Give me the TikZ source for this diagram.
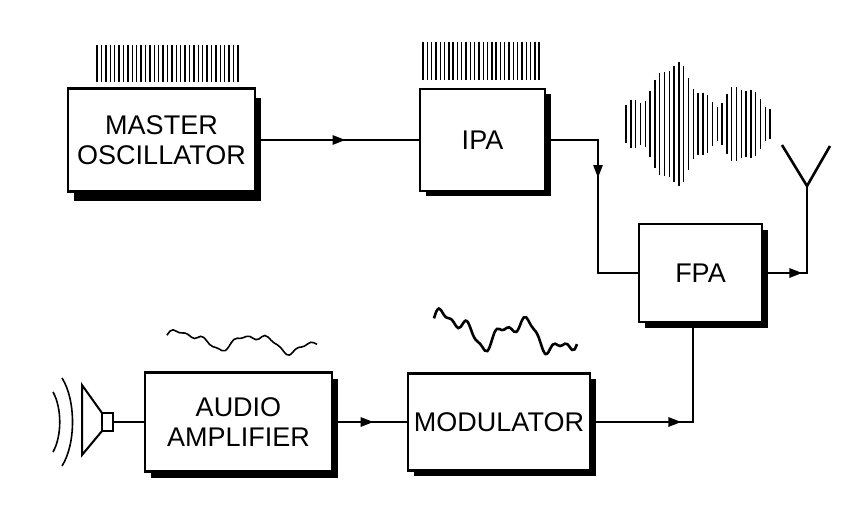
\documentclass[tikz,border=0pt]{standalone}
\usepackage{fontspec}
\setmainfont{Liberation Sans}
\usetikzlibrary{decorations.markings,arrows.meta}
\begin{document}
\begin{tikzpicture}[x=1pt,y=-1pt,
  blk/.style={draw,line width=2.4pt,fill=white,inner sep=0pt,font=\fontsize{27}{30}\selectfont,align=center},
  wire/.style={line width=2.6pt},
  mid/.style={postaction={decorate},decoration={markings,mark=at position #1 with {\arrow{Triangle[length=13pt,width=9pt]}}}},
  bar/.style={line width=1.4pt}]
\useasboundingbox (0,0) rectangle (863,516);
\newcommand{\blkshadow}[4]{\fill (#1+6,#2+6) rectangle (#3+6,#4+6);}
\blkshadow{68}{92}{255}{195}
\blkshadow{420}{88}{545}{190}
\blkshadow{639}{224}{762}{322}
\blkshadow{145}{373}{332}{472}
\blkshadow{408}{373}{590}{470}
\node[blk,minimum width=187pt,minimum height=103pt] (mo) at (161.5,140) {MASTER\\OSCILLATOR};
\node[blk,minimum width=125pt,minimum height=102pt] (ipa) at (482.5,140) {IPA};
\node[blk,minimum width=123pt,minimum height=98pt] (fpa) at (700.5,273) {FPA};
\node[blk,minimum width=187pt,minimum height=99pt] (aa) at (238.5,422) {AUDIO\\AMPLIFIER};
\node[blk,minimum width=182pt,minimum height=97pt] (mod) at (499,422) {MODULATOR};
% wires
\draw[wire,mid=0.55] (mo.east) -- (ipa.west);
\coordinate (c1) at (598,140);
\coordinate (c2) at (598,273);
\draw[wire,mid=0.4] (ipa.east) -- (c1) -- (c2) -- (fpa.west);
\coordinate (ant) at (807,186);
\coordinate (c3) at (807,273);
\draw[wire,mid=0.3] (fpa.east) -- (c3) -- (ant);
\draw[wire] (ant) -- (782,145) (ant) -- (830,146);
\draw[wire,mid=0.55] (aa.east) -- (mod.west);
\coordinate (c4) at (693,422);
\draw[wire,mid=0.45] (mod.east) -- (c4) -- (fpa.south -| c4);
% speaker
\coordinate (spk) at (113,422);
\draw[wire] (spk) -- (aa.west);
\draw[line width=2pt] (102,413) rectangle (113,431);
\draw[line width=2pt] (102,413) -- (82,385) -- (82,455) -- (102,431);
\draw[line width=1.6pt] (62,378) .. controls (76,400) and (76,444) .. (62,466);
\draw[line width=1.6pt] (53,392) .. controls (62,408) and (62,436) .. (53,452);
% RF bars
\foreach \i in {0,...,32} \draw[bar] (97+\i*4.4,45) -- (97+\i*4.4,82);
\foreach \i in {0,...,27} \draw[bar] (423+\i*4.3,42) -- (423+\i*4.3,80);
\foreach \i in {0,...,30} {
  \pgfmathsetmacro{\xx}{626+\i*4.8}
  \pgfmathsetmacro{\a}{18+42*exp(-((\i-10)^2)/25)+20*exp(-((\i-24)^2)/12)+5*sin(\i*70)}
  \draw[bar] (\xx,124-\a) -- (\xx,124+\a);}
% audio waves
\draw[line width=1.6pt] plot[smooth,domain=0:150,samples=50] ({167+\x},{338-7*sin(\x*5+10)-3*sin(\x*11+30)-1.5*sin(\x*23)+0.05*\x});
\draw[line width=2.6pt] plot[smooth,domain=0:143,samples=60] ({434+\x},{326-12*sin(\x*5+20)-7*sin(\x*12+30)-3*sin(\x*25)+0.1*\x});
\end{tikzpicture}
\end{document}
